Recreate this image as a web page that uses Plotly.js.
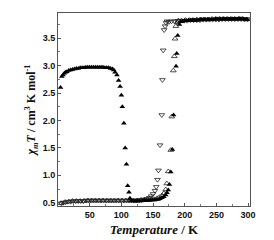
<!DOCTYPE html>
<html><head><meta charset="utf-8">
<script src="https://cdn.plot.ly/plotly-3.0.1.min.js"></script>
<style>html,body{margin:0;padding:0;background:#fff}#chart{width:274px;height:240px}</style>
</head><body><div id="chart"></div>
<script>
// Series A: filled up-triangles (LIESST relaxation, then heating)
const aT = [4, 6, 8, 10, 12, 14, 17, 20, 23, 26, 29, 32, 35, 38, 41, 44, 47, 50, 53, 56, 59, 62, 65, 68, 71, 74, 77, 80, 83, 86, 88, 90,
  93, 95.6, 98, 100, 101.5, 104, 106, 108, 110, 112, 113.5,
  116, 119, 122, 125, 128, 131, 134, 137, 140, 143, 146, 149, 152, 155, 158, 161, 164, 167, 170, 172, 174,
  175.8, 178, 180.5, 182.4, 186.3, 187.4, 189, 191.5,
  194, 197, 200, 203, 206, 209, 212, 215, 218, 221, 224, 227, 230, 233, 236, 239, 242, 245, 248, 251, 254, 257, 260, 263, 266, 269, 272, 275, 278, 281, 284, 287, 290, 293, 296, 299];
const aV = [2.60, 2.80, 2.83, 2.86, 2.88, 2.89, 2.91, 2.92, 2.93, 2.94, 2.95, 2.95, 2.96, 2.96, 2.96, 2.97, 2.97, 2.97, 2.97, 2.97, 2.97, 2.97, 2.97, 2.97, 2.97, 2.96, 2.96, 2.96, 2.95, 2.94, 2.92, 2.88,
  2.83, 2.73, 2.62, 2.46, 2.25, 1.95, 1.50, 1.20, 0.81, 0.69, 0.58,
  0.54, 0.53, 0.53, 0.53, 0.53, 0.53, 0.54, 0.54, 0.54, 0.54, 0.55, 0.55, 0.55, 0.56, 0.56, 0.57, 0.59, 0.61, 0.64, 0.68, 0.73,
  0.83, 1.06, 1.47, 2.10, 2.99, 3.22, 3.55, 3.75,
  3.80, 3.81, 3.82, 3.82, 3.82, 3.83, 3.83, 3.83, 3.83, 3.83, 3.84, 3.84, 3.84, 3.84, 3.84, 3.84, 3.84, 3.84, 3.85, 3.85, 3.85, 3.85, 3.85, 3.85, 3.85, 3.85, 3.85, 3.85, 3.85, 3.85, 3.85, 3.86, 3.85, 3.85, 3.84, 3.84];

// Series B: open down-triangles (cooling)
const bT = [299, 294, 289, 284, 279, 274, 269, 264, 259, 254, 249, 244, 239, 234, 229, 224, 219, 214, 209, 204, 199, 194, 189, 184, 179, 175, 172,
  170.6, 169, 167.5, 166, 164.8, 163.8, 161, 158.5, 157, 155, 153, 150, 147, 144, 140, 136, 132,
  128, 124, 120, 116, 112, 108, 104, 100, 96, 92, 88, 84, 80, 76, 72, 68, 64, 60, 56, 52, 48, 44, 40, 36, 32, 28, 24, 20, 16, 12, 8, 5];
const bV = [3.85, 3.85, 3.85, 3.85, 3.85, 3.85, 3.85, 3.85, 3.85, 3.84, 3.84, 3.84, 3.84, 3.84, 3.84, 3.83, 3.83, 3.83, 3.83, 3.82, 3.82, 3.82, 3.82, 3.81, 3.81, 3.80, 3.81,
  3.78, 3.72, 3.65, 3.28, 2.74, 2.10, 1.55, 1.09, 0.92, 0.79, 0.72, 0.66, 0.62, 0.59, 0.57, 0.56, 0.55,
  0.55, 0.54, 0.54, 0.54, 0.54, 0.54, 0.54, 0.54, 0.54, 0.54, 0.54, 0.54, 0.54, 0.54, 0.54, 0.54, 0.54, 0.54, 0.54, 0.54, 0.54, 0.54, 0.53, 0.53, 0.53, 0.53, 0.53, 0.52, 0.52, 0.51, 0.50, 0.49];

// Series C: open up-triangles (heating)
const cT = [5, 11, 17, 23, 29, 35, 41, 47, 53, 59, 65, 71, 77, 83, 89, 95, 101, 107, 113, 119, 125, 131, 137, 143, 148, 152, 156, 160, 164, 167, 170,
  171.7, 174, 178, 179.5, 182, 183.6, 184.7, 186, 188, 190,
  195, 201, 207, 213, 219, 225, 231, 237, 243, 249, 255, 261, 267, 273, 279, 285, 291, 297];
const cV = [0.49, 0.51, 0.52, 0.53, 0.53, 0.53, 0.53, 0.54, 0.54, 0.54, 0.54, 0.54, 0.54, 0.54, 0.54, 0.54, 0.54, 0.54, 0.54, 0.54, 0.54, 0.55, 0.55, 0.55, 0.56, 0.56, 0.58, 0.60, 0.63, 0.67, 0.74,
  0.85, 1.07, 1.46, 2.07, 2.91, 3.17, 3.49, 3.72, 3.79, 3.82,
  3.82, 3.83, 3.83, 3.83, 3.84, 3.84, 3.84, 3.84, 3.85, 3.85, 3.85, 3.85, 3.85, 3.85, 3.85, 3.85, 3.85, 3.84];

const xTicks = [50, 100, 150, 200, 250, 300];
const yTicks = [0.5, 1.0, 1.5, 2.0, 2.5, 3.0, 3.5];

const traces = [
  {x: bT, y: bV, type: 'scatter', mode: 'markers', name: 'cooling',
   marker: {symbol: 'triangle-down-open', size: 5, color: '#222', line: {width: 0.8, color: '#222'}}},
  {x: cT, y: cV, type: 'scatter', mode: 'markers', name: 'heating',
   marker: {symbol: 'triangle-up-open', size: 5, color: '#222', line: {width: 0.8, color: '#222'}}},
  {x: aT, y: aV, type: 'scatter', mode: 'markers', name: 'after irradiation',
   marker: {symbol: 'triangle-up', size: 5, color: '#000', line: {width: 0}}}
];

const tickFont = {family: 'Liberation Sans, Arial, sans-serif', size: 9, color: '#111', weight: 'bold'};
const layout = {
  width: 274, height: 240,
  margin: {l: 58, r: 24, t: 13, b: 34},
  paper_bgcolor: '#fff', plot_bgcolor: '#fff',
  showlegend: false,
  xaxis: {range: [0, 303], tickvals: xTicks, ticktext: xTicks.map(String), ticks: 'inside', ticklen: 3,
    tickcolor: '#555', minor: {ticks: 'inside', ticklen: 2, dtick: 25, tickcolor: '#777'},
    showline: true, linecolor: '#555', linewidth: 1, mirror: true, showgrid: false, zeroline: false,
    tickfont: tickFont,
    title: {text: '<i>Temperature</i> / K', font: {family: 'Liberation Serif, Times New Roman, serif', size: 13, color: '#111', weight: 'bold'}, standoff: 6}},
  yaxis: {range: [0.44, 3.96], tickvals: yTicks, ticktext: yTicks.map(v => v.toFixed(1)), ticks: 'inside', ticklen: 3,
    tickcolor: '#555', minor: {ticks: 'inside', ticklen: 2, dtick: 0.25, tickcolor: '#777'},
    showline: true, linecolor: '#555', linewidth: 1, mirror: true, showgrid: false, zeroline: false,
    tickfont: tickFont,
    title: {text: '<i>χ<sub>m</sub>T</i> / cm<sup>3</sup> K mol<sup>-1</sup>', font: {family: 'Liberation Serif, Times New Roman, serif', size: 12, color: '#111', weight: 'bold'}, standoff: 4}}
};
Plotly.newPlot('chart', traces, layout, {staticPlot: true, displayModeBar: false});
</script>
</body></html>
